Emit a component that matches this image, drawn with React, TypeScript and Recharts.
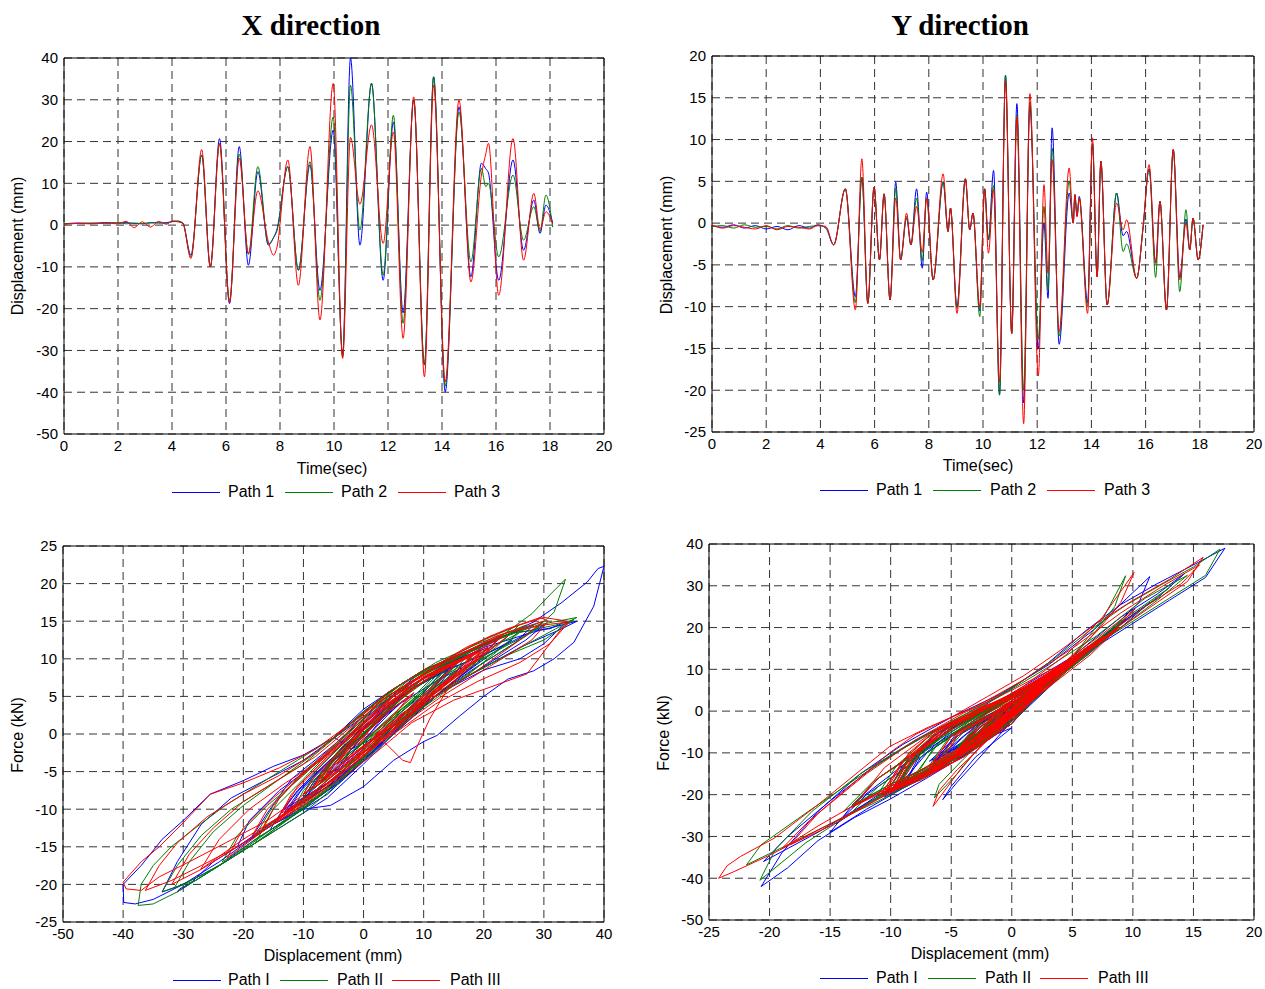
import React from 'react';
import { LineChart, Line, XAxis, YAxis, CartesianGrid, ReferenceArea } from 'recharts';

type P = [number, number];

// ---------- Time histories (X direction) ----------
const tX = [0, 0.5, 1.0, 1.5, 2.0, 2.3, 2.6, 2.9, 3.2, 3.5, 3.8, 4.0, 4.2, 4.4, 4.7, 5.1, 5.42, 5.76, 6.13, 6.49, 6.83, 7.18, 7.57, 7.76, 7.88, 8.29, 8.68, 9.11, 9.48, 9.97, 10.32, 10.61, 10.96, 11.39, 11.82, 12.2, 12.56, 12.95, 13.35, 13.69, 14.12, 14.63, 15.07, 15.46, 15.62, 15.72, 16.1, 16.63, 17.02, 17.4, 17.63, 17.85, 18.1];
const xPath1 = [0.3, 0.5, 0.4, 0.6, 0.5, 0.6, 0.4, 0.3, 0.6, 0.5, 0.6, 0.8, 0.9, 0.5, -7.2, 16.8, -10, 20.7, -18.8, 18.8, -9.6, 12.8, -4.8, -3, -1.2, 14, -10.8, 14.4, -15.6, 22.7, -31, 40, -4.8, 33.9, -13.2, 24.7, -21, 30, -33.5, 35.5, -39.9, 28.3, -12.4, 14.8, 13.5, 12.5, -13.2, 15.6, -6, 6, -2, 4.8, 0.5];
const xPath2 = [0.3, 0.4, 0.5, 0.4, 0.6, 0.3, 0.5, 0.4, 0.5, 0.6, 0.4, 0.9, 1.0, 0.5, -7.6, 16.8, -10, 19.5, -18, 17, -7, 14, -4.5, -3, -1.5, 14, -10.8, 15.2, -18, 25.9, -31.5, 33.5, -1.2, 34, -12, 26.3, -23.5, 30, -33.5, 35.5, -38.5, 27.1, -8.8, 13.6, 9.2, 10, -7.6, 12, -3.6, 4.4, -1.5, 7.2, -0.5];
const xPath3 = [0.2, 0.4, 0.3, 0.5, 0.3, 0.9, -0.6, 0.8, -0.5, 0.9, 0.2, 1.0, 0.8, 0.4, -8, 18.1, -10, 19.5, -18.5, 16, -6.8, 8.2, -4, -7.2, -5.5, 15.6, -14.4, 18.8, -22.7, 33.9, -31.9, 21, 5, 24, -4.4, 22.3, -27.1, 30.7, -36.3, 33.5, -37.5, 29.9, -13.6, 12, 17, 19.6, -16.8, 20.7, -8.4, 7.6, -1, 3.2, 0.3];

// ---------- Time histories (Y direction) ----------
const tY = [0, 0.4, 0.8, 1.2, 1.6, 2.0, 2.4, 2.8, 3.2, 3.6, 3.9, 4.2, 4.49, 4.92, 5.29, 5.53, 5.75, 5.98, 6.18, 6.35, 6.57, 6.78, 6.96, 7.18, 7.34, 7.55, 7.76, 7.92, 8.16, 8.53, 8.71, 8.8, 9.04, 9.35, 9.51, 9.63, 9.88, 10.06, 10.2, 10.39, 10.61, 10.83, 11.06, 11.25, 11.5, 11.73, 12.04, 12.25, 12.4, 12.55, 12.81, 13.18, 13.33, 13.39, 13.47, 13.55, 13.86, 14.04, 14.21, 14.35, 14.58, 14.93, 15.17, 15.3, 15.67, 15.91, 16.13, 16.37, 16.53, 16.77, 17.02, 17.26, 17.49, 17.63, 17.75, 17.94, 18.12];
const yPath1 = [-0.3, -0.5, -0.2, -0.6, -0.3, -0.7, -0.4, -0.8, -0.3, -0.6, -0.2, -0.6, -2.6, 4.1, -8.8, 5.5, -9.6, 4.3, -4.4, 3.5, -9.2, 4.9, -4.4, 0.6, -2.6, 4.1, -5.4, 3.7, -6.8, 4.9, -1, 1.8, -10, 5.3, -0.8, 1.2, -10.5, 4.1, -2, 6.3, -20.5, 17.7, -13.2, 14.3, -21.5, 14, -15, 0, -9, 11.4, -14.5, 3.6, 0, 3.4, 0.8, 3.2, -9.5, 9.5, -6.4, 7.4, -9.8, 3.6, -1.5, -1, -6.6, -0.4, 6.5, -4.8, 2.6, -10.4, 8.8, -6.5, 0.5, -3.2, 0.6, -4.4, -0.2];
const yPath2 = [-0.4, -0.3, -0.6, -0.2, -0.5, -0.4, -0.7, -0.3, -0.6, -0.4, -0.3, -0.5, -2.6, 4.1, -9.5, 5.5, -9.6, 4.3, -4.4, 3.5, -9.2, 4.2, -4.4, 0.8, -2.6, 3, -4.5, 3, -6.8, 5, -1, 1.8, -10.2, 5.3, -0.8, 1.2, -11.2, 4.1, -2, 4.5, -20.6, 17.7, -13.2, 13, -20, 14.5, -13.9, 2, -8, 9, -13.5, 5, 0, 3.4, 1, 3, -10, 9.5, -6.4, 7.4, -9.8, 3.6, -3.4, -2.5, -6.6, -0.4, 6.5, -6.5, 2.6, -10.4, 8.8, -8.2, 1.6, -3.2, 0.6, -4.4, -0.2];
const yPath3 = [-0.2, -0.6, -0.3, -0.5, -0.7, -0.3, -0.8, -0.4, -0.5, -0.7, -0.3, -0.4, -2.6, 4.1, -10.4, 7.7, -9.6, 4.3, -4.4, 3.5, -9.2, 3, -4.4, 1.2, -2.6, 2, -3.5, 3, -6.8, 5.9, -1, 1.8, -10.8, 5.3, -0.8, 1.2, -10, 4.1, -3.6, 4, -19, 17, -13.2, 12.7, -24, 15.5, -18.3, 4.6, -6, 7.6, -13, 6.6, 0, 3.4, 0.8, 3, -10.8, 10.2, -6.4, 7.4, -9.8, 2.4, -0.8, 0.4, -6.6, -0.4, 7, -4.8, 2.6, -10.4, 8.8, -6.8, 0, -3.2, 0.6, -4.4, -0.2];

// ---------- Hysteresis X direction: [displacement mm, force kN] ----------
const hxPathI: P[] = [
  [0, 0], [-3, -3], [-7.2, -6.5],
  [-5, -4], [0, 0.5], [5, 4.5], [10, 7], [16.8, 9.5],
  [14, 7], [10, 4], [5, 1], [0, -3], [-5, -6], [-10, -8.5],
  [-8, -6], [-3, -2], [0, 1.5], [5, 5], [10, 8], [15, 9.8], [20.7, 11.5],
  [18, 9], [12, 5], [5, 0], [0, -3.5], [-5, -7], [-10, -9.8], [-15, -12], [-18.8, -14],
  [-16, -10.5], [-12, -6], [-5, -1.5], [0, 2], [5, 5], [10, 8], [18.8, 11],
  [15, 8], [8, 3], [0, -3], [-5, -6], [-9.6, -8.5],
  [-7, -5], [-2, -1], [3, 3], [8, 6], [12.8, 8],
  [10, 5.5], [5, 2], [0, -2], [-4.8, -5],
  [-2, -2], [3, 2.5], [8, 6], [14, 8.5],
  [11, 6], [5, 1.5], [0, -3], [-5, -6.5], [-10.8, -9.5],
  [-8, -6], [-3, -2], [2, 2.5], [8, 6], [14.4, 9],
  [11, 5.5], [5, 0.5], [0, -3.5], [-6, -7.5], [-11, -10.5], [-15.6, -12.8],
  [-13, -9.5], [-8, -5], [-2, 0], [3, 4], [10, 8.5], [16, 10.5], [22.7, 13],
  [19, 9.5], [12, 5], [5, 0], [0, -4], [-6, -8.5], [-12, -11.5], [-18, -14.5], [-24, -17.5], [-28, -19.5], [-30.6, -20.6], [-31, -21],
  [-29, -20], [-25, -17], [-20, -14.5], [-15, -12], [-10, -10], [-5.5, -9.5], [0, -7], [5, -3.5], [10, -1], [12.2, -0.2], [16, 2.4], [20, 5], [24, 7.3], [28.3, 8.4], [31.7, 10], [35, 12.2], [38.3, 17], [40, 22.3],
  [39, 22], [37.2, 20.2], [33, 17.5], [28.3, 14.9], [22, 12.5], [15, 10], [10, 8.5], [5, 6], [0, 3], [-4.8, -0.5],
  [-2, -2], [3, 0], [8, 3], [14, 6], [20, 8.5], [26, 10], [30, 12], [33.9, 15],
  [31, 14], [25, 13.5], [18, 11], [10, 7.5], [4, 3], [0, -1], [-5, -5], [-10, -8.5], [-13.2, -10.5],
  [-11, -8], [-6, -4], [0, 0], [6, 4], [12, 7], [18, 9.5], [24.7, 12.5],
  [21, 10.5], [15, 7], [8, 2.5], [2, -2], [-5, -6.5], [-12, -10], [-17, -12.8], [-21, -15],
  [-19, -11.5], [-14, -7.5], [-8, -4], [-2, 0], [4, 4], [10, 7.5], [17, 9.5], [24, 12], [30, 14.5],
  [27, 12.5], [20, 9], [12, 5], [5, 0.5], [0, -3.5], [-6, -8], [-12, -11], [-18, -14], [-24, -17.5], [-30, -20], [-33.5, -21],
  [-31, -17], [-27, -12], [-22, -8.5], [-16, -6], [-10, -3.5], [-4, 0], [2, 3.5], [8, 6.5], [14, 9], [20, 11.5], [28, 13.5], [35.5, 15],
  [33, 14], [26, 11.5], [18, 8], [10, 4], [3, -1.5], [-4, -6.5], [-10, -9.5], [-17, -13], [-24, -17], [-30, -20], [-35, -22], [-38, -22.6], [-39.9, -22.4],
  [-40, -20], [-37, -17.5], [-33.5, -14], [-30, -11.5], [-25.5, -8], [-20, -6.2], [-15, -4.3], [-10, -2.8], [-5, -0.5], [0, 3.3], [5, 6], [10, 8.5], [15, 10.3], [20, 12], [28.3, 14.5],
  [25, 12], [18, 8.5], [10, 4], [4, 0], [0, -3], [-6, -7], [-12.4, -10],
  [-10, -7], [-5, -3], [0, 1], [6, 5], [14.8, 9],
  [12, 6.5], [6, 2], [0, -2.5], [-6, -6.5], [-13.2, -10],
  [-11, -7.5], [-5, -3], [1, 1.5], [8, 6], [15.6, 9.5],
  [13, 7], [7, 3], [2, -0.5], [-2, -3], [-6, -5.5],
  [-4, -3], [0, 0], [3, 2.5], [6, 4],
  [4, 2.5], [1, 0], [-2, -2],
  [0, 0], [2.5, 2], [4.8, 3.5],
  [3, 2], [0.5, 0.5],
];
const hxPathII: P[] = [
  [0, 0.5], [-3, -2.5], [-7.6, -6],
  [-5, -3], [0, 1.5], [5, 5], [10, 7.5], [16.8, 10],
  [14, 7.5], [9, 3.5], [4, 0], [0, -2.5], [-5, -5.5], [-10, -8],
  [-8, -5], [-3, -1], [1, 3], [6, 6.5], [12, 9], [19.5, 11.5],
  [17, 9.5], [11, 5.5], [5, 1], [0, -2.5], [-6, -6.5], [-12, -10], [-18, -13.5],
  [-15, -9.5], [-10, -5], [-4, -1], [1, 3.5], [7, 7], [12, 9], [17, 10.5],
  [14, 8], [8, 3.5], [2, -0.5], [-3, -3.5], [-7, -6],
  [-5, -3.5], [0, 1], [5, 4.5], [10, 7.5], [14, 9],
  [11, 6], [5, 2.5], [0, -1], [-4.5, -4],
  [-2, -1.5], [3, 2.5], [8, 6], [14, 9],
  [11, 6.5], [5, 2], [0, -2.5], [-5, -6], [-10.8, -9.5],
  [-8, -6], [-3, -1.5], [2, 3], [8, 7], [15.2, 10],
  [12, 6.5], [6, 2], [0, -3], [-6, -7.5], [-12, -11], [-18, -14.5],
  [-15, -10], [-10, -6], [-4, -1], [2, 3.5], [8, 7.5], [14, 10], [20, 12.5], [25.9, 14.5],
  [22, 11.5], [15, 7.5], [8, 3], [2, -1.5], [-4, -6.5], [-10, -10.5], [-16, -13.5], [-22, -16.5], [-27, -18.8], [-31.5, -20.5],
  [-29, -17], [-25, -13], [-20, -9.5], [-14, -6], [-8, -2.5], [-2, 1.5], [4, 5.5], [10, 8.5], [16, 10.5], [22, 12.5], [28, 16], [31, 18.5], [33.6, 20.6],
  [31.7, 16.2], [28, 13.5], [22, 11], [15, 8], [8, 4], [3, 1], [-1.2, -2],
  [1, -0.5], [6, 2.5], [12, 5.5], [18, 8], [24, 10.5], [30, 12.5], [35, 15.2],
  [32, 14.5], [26, 13.5], [20, 11], [12, 7], [5, 2.5], [0, -2], [-6, -7], [-12, -10.5],
  [-10, -7.5], [-5, -3.5], [0, 0.5], [6, 5], [12, 8.5], [19, 11.5], [26.3, 14],
  [23, 11.5], [16, 7], [9, 3], [3, -1.5], [-3, -5.5], [-10, -10], [-17, -13.5], [-23.5, -17],
  [-21, -13.5], [-16, -9.5], [-10, -5.5], [-4, -1], [2, 3.5], [9, 7.5], [16, 10.5], [23, 13], [30, 15],
  [27, 13], [20, 9.5], [12, 5], [5, 0.5], [-1, -4], [-8, -8.5], [-15, -12.5], [-22, -16.5], [-28, -19.5], [-33.5, -21],
  [-31, -17.5], [-27, -13.5], [-22, -10], [-16, -7], [-10, -4], [-4, 0], [2, 4], [8, 7], [15, 10], [22, 12.5], [29, 14.5], [35.5, 15.5],
  [32, 14], [25, 11], [17, 7.5], [10, 4], [3, -1], [-4, -6], [-11, -10.5], [-18, -14.5], [-25, -18], [-31, -21], [-35, -22.6], [-37.5, -22.8],
  [-37, -20], [-35, -17.5], [-32, -15], [-28, -12.5], [-23, -9.5], [-17, -6.5], [-11, -3.5], [-5, -0.5], [0, 3], [6, 6.5], [12, 9.5], [19, 12], [27.1, 14.5],
  [24, 12], [17, 8.5], [10, 4.5], [4, 0.5], [-2, -3.5], [-8.8, -7.5],
  [-6, -4.5], [-1, -0.5], [4, 3], [9, 6.5], [13.6, 9],
  [10, 6], [4, 1.5], [-2, -3], [-7.6, -6.5],
  [-5, -3.5], [0, 0.5], [6, 4.5], [12, 8],
  [9, 5.5], [4, 2], [0, -1], [-3.6, -3.5],
  [-1, -1], [2, 1.5], [4.4, 3.5],
  [2, 1.5], [-1.5, -1.5],
  [1, 0.5], [4, 3], [7.2, 5.5],
  [4, 3], [-0.5, -0.5],
];
const hxPathIII: P[] = [
  [0, 0], [-3, -2.5], [-8, -6.5],
  [-6, -4], [-1, 0], [4, 4], [10, 7.5], [18.1, 10.5],
  [15, 8], [9, 4], [3, 0], [-2, -3], [-6, -5.5], [-10, -8],
  [-8, -5.5], [-3, -1.5], [2, 2.5], [8, 6.5], [14, 9], [19.5, 11],
  [16, 8.5], [10, 4.5], [4, 0], [-2, -3.5], [-8, -7.5], [-13, -10.5], [-18.5, -13.5],
  [-16, -10], [-11, -6], [-5, -2], [1, 2.5], [7, 6.5], [16, 10],
  [13, 7.5], [7, 3], [2, -0.5], [-2, -3], [-6.8, -6],
  [-4, -3.5], [1, 0.5], [5, 3.5], [8.4, 5.5],
  [5, 2.5], [1, -1], [-3, -3.5], [-7.2, -6.5],
  [-5, -4], [0, 0.5], [5, 4], [10, 7], [15.6, 9.5],
  [12, 6.5], [6, 2], [0, -2.5], [-5, -6], [-10, -9], [-14.4, -11.5],
  [-12, -8], [-7, -4], [-2, 0], [4, 4.5], [10, 7.5], [18.8, 11],
  [15, 7.5], [8, 3], [2, -1.5], [-4, -5.5], [-10, -9], [-16, -12.5], [-22.7, -16.5],
  [-20, -12.5], [-15, -8.5], [-9, -4.5], [-3, 0], [3, 4.5], [9, 7.5], [15, 10.5], [21, 13], [26, 14.5], [30, 15.5], [33.9, 15],
  [31, 12], [27.2, 8], [22, 6.5], [15, 4.5], [8, 1.5], [2, -2.5], [-4, -6], [-10, -9.5], [-16, -12.5], [-22, -15.5], [-27, -18], [-31.9, -20],
  [-29, -16], [-25, -12.5], [-20, -9], [-14, -6], [-8, -3], [-2, 1], [4, 5], [10, 8], [16, 10.5], [23.1, 13],
  [18, 9.5], [14, 6], [11, 2], [9, -1.5], [7.8, -3.8], [6.5, -3.5], [4, -1.5], [2, 0],
  [5, 1], [9, 3.5], [14, 7], [19, 10], [24, 13],
  [20, 10.5], [13, 6.5], [6, 2.5], [1, -1], [-4.4, -4],
  [-2, -1], [3, 3], [9, 6.5], [15, 9.5], [22.3, 12.5],
  [18, 9], [11, 4.5], [4, 0], [-2, -3.5], [-8, -7.5], [-14, -11], [-20, -14], [-27.1, -18],
  [-24, -14], [-19, -10], [-13, -6.5], [-7, -3.5], [-1, 0.5], [5, 5], [11, 8.5], [17, 11.5], [24, 14], [29.4, 15.5], [30.7, 15],
  [28, 12.5], [21, 9], [13, 5], [6, 1], [0, -3], [-7, -7.5], [-14, -11.5], [-21, -15], [-27, -17.5], [-32, -19.5], [-36.3, -20.8],
  [-34, -17.5], [-31, -14.5], [-26, -11], [-20, -8], [-14, -5.5], [-8, -2.5], [-2, 1.5], [4, 5.5], [10, 8.5], [17, 11], [24, 13.5], [30, 14.5], [34.2, 14.9],
  [31, 12], [26, 9.5], [19, 7], [12, 4], [5, 0], [-2, -3.5], [-9, -7.5], [-16, -11.5], [-23, -14.5], [-29, -17], [-34, -19], [-37, -20.8], [-39.5, -20.6], [-40, -19.7],
  [-37, -17], [-34, -15], [-30, -11.8], [-25.5, -8], [-20, -6.5], [-14, -4.5], [-8, -2], [-2, 1.5], [4, 5], [10, 8], [16, 10.5], [22, 13], [29.9, 15],
  [26, 12.5], [19, 8.5], [11, 4.5], [4, 0.5], [-3, -4], [-8, -7.5], [-13.6, -10.5],
  [-11, -7], [-6, -3], [0, 1], [6, 5], [12, 8], [19.6, 11],
  [16, 8], [9, 3.5], [3, -1], [-3, -4.5], [-9, -8.5], [-16.8, -12.5],
  [-14, -8.5], [-9, -4.5], [-3, -0.5], [3, 3.5], [9, 7], [15, 9.5], [20.7, 11.5],
  [17, 9], [10, 4.5], [4, 1], [-2, -3], [-8.4, -7],
  [-5, -3.5], [0, 0.5], [4, 3], [7.6, 5],
  [5, 2.5], [2, 0.5], [-1, -1.5],
  [1, 0.5], [3.2, 2.5],
  [1.5, 1], [0.3, 0],
];

// ---------- Hysteresis Y direction: [displacement mm, force kN] ----------
const hyPathI: P[] = [
  [0, 0], [-1.5, -3.5], [-2.6, -6],
  [-1.5, -2], [1, 3], [4.1, 9.5],
  [2.5, 5], [0, -3], [-4, -10.5], [-8.8, -17],
  [-7.5, -10], [-5, -4], [-2, 0.5], [1, 5.5], [5.5, 13],
  [3.5, 8], [0, -3], [-5, -12], [-9.6, -19],
  [-8, -11], [-5.5, -5], [-2, 0.5], [1, 5], [4.3, 10.5],
  [2.5, 6], [0, 0], [-4.4, -9],
  [-2.5, -3], [1, 3.5], [3.5, 8.5],
  [1.5, 3.5], [-2, -6], [-6, -13.5], [-9.2, -17.5],
  [-7, -10], [-3, -2], [1, 5], [4.9, 11.5],
  [2.5, 6], [0, -0.5], [-4.4, -9],
  [-2, -3], [0.6, 2],
  [-1, -2.5], [-2.6, -6],
  [-1, -0.5], [2, 5], [4.1, 10],
  [2, 5], [-1.5, -3], [-5.4, -10],
  [-3, -3.5], [0.5, 3.5], [3.7, 9],
  [1.5, 4], [-2, -4], [-6.8, -12],
  [-4.5, -6], [0, 2.5], [4.9, 11.5],
  [2.5, 5.5], [-1, -2.5],
  [0.5, 1.5], [1.8, 4.5],
  [0, -3], [-4, -11], [-7.5, -16], [-10, -19.5],
  [-8.5, -11.5], [-6, -5], [-3, -0.5], [0, 3.5], [5.3, 12.5],
  [2.5, 6], [-0.8, -2], [1.2, 3.5],
  [-1, -4], [-5, -12.5], [-10.5, -20.5],
  [-9, -13], [-6.5, -6], [-3, -0.5], [0, 3.5], [4.1, 10],
  [1.5, 3.5], [-2, -4.5],
  [0, 1.5], [3, 8], [6.3, 15.5],
  [4, 10], [0, -1.5], [-4, -10], [-8, -16.5], [-12, -22], [-16, -29], [-20.5, -36],
  [-18.5, -30], [-15, -21.5], [-11, -12.5], [-7, -5.5], [-3, 0], [0, 5.5], [3, 11.5], [6, 19], [9, 25.5], [12, 30.5], [15, 35], [17.6, 39],
  [16, 32], [13, 26.5], [10, 21], [7, 15.5], [4, 9.5], [1, 1], [-2, -6], [-6, -13], [-10, -18], [-13.2, -23],
  [-11, -16], [-7, -8], [-3, -1], [1, 6], [5, 13], [9, 22.5], [12, 28], [14.3, 33],
  [12, 27], [9, 21], [5, 12], [1, 1.5], [-3, -9], [-7, -16], [-10, -21], [-13, -25.5], [-16, -31], [-18.5, -37.5], [-20.7, -42],
  [-19, -34], [-16, -24], [-12.5, -15], [-9, -8], [-5, -1.5], [-1, 4], [3, 11], [7, 20], [9.5, 27], [11.4, 32.2],
  [10.5, 26], [8, 19], [5, 11], [2, 3], [-1, -5], [-5, -12.5], [-9, -18.5], [-12, -23.5], [-15, -29],
  [-13, -22], [-9, -13], [-5, -5.5], [-2, -1], [0, 2],
  [-2, -6], [-5.5, -13], [-9, -18],
  [-7.5, -11], [-5, -5], [-2, 0.5], [1, 5], [5, 12.5], [8.5, 20], [11.4, 26],
  [9, 20], [5, 11], [1, 2], [-3, -7.5], [-7, -14], [-11, -20], [-14.5, -27],
  [-12, -20], [-7, -10], [-3, -2], [0, 3.5], [3.6, 9],
  [1.5, 4], [0, 0.5], [1.5, 4.5], [3.4, 8.5],
  [1, 0], [-3, -8], [-6.5, -14], [-9.5, -18],
  [-8, -11], [-5, -4], [-1, 2], [1, 5], [5, 12.5], [9.5, 22],
  [7, 16], [3, 7], [0, 0], [-3, -6], [-6.4, -12],
  [-4, -6], [0, 2.5], [4, 10.5], [7.4, 17],
  [5, 11], [1, 0], [-3, -8.5], [-6.5, -14.5], [-9.8, -19],
  [-8, -11.5], [-5, -4], [-1, 1.5], [3.6, 9],
  [1, 1], [-2, -9], [-4.5, -17], [-5.7, -21.2], [-5, -18], [-3, -11], [0, -4], [-2.5, -7], [-6.6, -13.5],
  [-4.5, -5], [0, 2], [3, 8], [6.5, 15.5],
  [4, 9.5], [0.5, 1], [-2.5, -4.5], [-4.8, -9.5],
  [-2.5, -3], [0.5, 2.5], [2.6, 6.5],
  [0.5, -1], [-3, -8.5], [-7, -15], [-10.4, -19.5],
  [-8.5, -11.5], [-5.5, -4.5], [-2, 1], [1, 5], [4.5, 11], [8.8, 20],
  [6.5, 14], [2.5, 5], [-1, -2.5], [-3.5, -7], [-6.5, -12],
  [-4.5, -6], [-1.5, -1], [0.5, 2],
  [-1, -2.5], [-3.2, -7],
  [-1.5, -1.5], [0.6, 2],
  [-1.5, -3.5], [-4.4, -9],
  [-2.5, -3.5], [-0.2, 0],
];
const hyPathII: P[] = [
  [0, 0.5], [-1.5, -3], [-2.6, -5.5],
  [-1.5, -1.5], [1, 3.5], [4.1, 10],
  [2.5, 5.5], [0, -3], [-4, -10.5], [-9.5, -18],
  [-8, -10.5], [-5.5, -4.5], [-2, 1], [1, 5.5], [5.5, 13.5],
  [3.5, 8.5], [0, -2.5], [-5, -11.5], [-9.6, -18.5],
  [-8, -11], [-5, -4], [-1.5, 1.5], [1, 5.5], [4.3, 11],
  [2.5, 6.5], [0, 0.5], [-4.4, -8.5],
  [-2.5, -2.5], [1, 4], [3.5, 9],
  [1.5, 4], [-2, -5.5], [-6, -13], [-9.2, -17],
  [-7.5, -10], [-4.5, -3.5], [-1, 2], [1, 5], [4.2, 10.5],
  [2.5, 6], [0, 0], [-4.4, -8.5],
  [-2, -2.5], [0.8, 2.5],
  [-1, -2], [-2.6, -5.5],
  [-1, 0], [1.5, 4], [3, 7.5],
  [1.5, 3.5], [-1.5, -2.5], [-4.5, -8.5],
  [-2.5, -2.5], [0.5, 3.5], [3, 8],
  [1.5, 3.5], [-2, -4.5], [-6.8, -13],
  [-5, -5.5], [0, 3], [5, 12],
  [2.5, 5.5], [-1, -2],
  [0.5, 2], [1.8, 5],
  [0, -2.5], [-4, -10.5], [-7.5, -15.5], [-10.2, -19],
  [-8.5, -11], [-6, -4.5], [-2.5, 0.5], [0, 3.5], [5.3, 13],
  [2.5, 6.5], [-0.8, -1.5], [1.2, 4],
  [-1, -3.5], [-5, -12], [-8.5, -16.5], [-11.2, -20.5],
  [-9.5, -13], [-7, -6.5], [-4, -1.5], [0, 3.5], [4.1, 10.5],
  [1.5, 4], [-2, -4],
  [0, 2], [2.5, 7], [4.5, 12],
  [2.5, 6], [-1, -3], [-5, -11], [-9, -17.5], [-13, -24], [-17, -31.5], [-20.8, -40.5],
  [-19.5, -33], [-16.5, -24], [-12.5, -15], [-8, -7], [-4, -1], [0, 5.5], [3.5, 12.5], [6.5, 19.5], [9.5, 25.5], [12.5, 30.5], [15, 34.5], [17.2, 38.8],
  [16, 32.5], [13, 27], [10, 21.5], [7, 16], [4, 10], [1, 1.5], [-2, -5.5], [-6, -12.5], [-10, -17.5], [-13.2, -22.5],
  [-11, -16], [-7, -8.5], [-3, -1.5], [1, 5.5], [5, 12.5], [9, 21.5], [13, 29.5],
  [11, 25], [8, 18.5], [4.5, 10.5], [1, 1], [-3, -8.5], [-7, -15.5], [-11, -21.5], [-15, -27], [-18.5, -32], [-21.9, -36.8],
  [-20.7, -32], [-16.8, -24], [-12.5, -15.5], [-9, -9], [-5, -2.5], [-1, 3.5], [3, 10.5], [7, 18], [11, 27], [14.5, 32.5],
  [12, 26.5], [9, 20], [5.5, 12], [2, 3], [-2, -5.5], [-6, -12], [-10, -17.5], [-13.9, -24],
  [-11.5, -17], [-7, -8], [-3, -1], [2, 6],
  [0, -1], [-4, -9.5], [-8, -16],
  [-6.5, -9], [-3.5, -2.5], [-1, 1.5], [2, 6], [5, 13], [7.5, 22], [9.4, 32.4],
  [8.5, 25], [6.5, 17.5], [4, 10], [1, 1.5], [-3, -7], [-7, -13.5], [-10.5, -19.5], [-13.5, -25],
  [-11, -18], [-6.5, -9], [-2, -0.5], [1.5, 5.5], [5, 12.5],
  [2.5, 6], [0, 1], [1.5, 5], [3.4, 9],
  [1, 0], [-3, -8.5], [-6.5, -14.5], [-10, -19.5],
  [-8.5, -11.5], [-5.5, -4.5], [-1.5, 1.5], [1.5, 5.5], [5.5, 13.5], [9.5, 22.5],
  [7, 16], [3, 6.5], [0, -1], [-2.5, -8], [-4.5, -15], [-6.4, -20.8], [-6, -17.5], [-4, -11.5], [-1.5, -4.5], [1, 2], [4, 10.5], [7.4, 17.5],
  [5, 11], [1, 0.5], [-3, -8.5], [-6.5, -14.5], [-9.8, -19],
  [-8, -11.5], [-5, -4.5], [-1.5, 1], [0, 3], [3.6, 9],
  [1, 2.5], [-3.4, -7],
  [-1.5, -2], [-4, -8.5], [-6.6, -13.5],
  [-4, -5], [-0.4, 1],
  [2, 5.5], [4, 10], [6.5, 15.5],
  [4, 9.5], [0.5, 1], [-3, -7], [-6.5, -13.5],
  [-4.5, -5.5], [0, 2], [2.6, 7],
  [0.5, -0.5], [-3, -8.5], [-7, -15.5], [-10.4, -19.5],
  [-8.5, -12], [-5.5, -4.5], [-2, 1], [0, 3], [4.5, 11], [8.8, 20.5],
  [6.5, 14], [2.5, 5], [-1, -3], [-4.5, -10], [-8.2, -16],
  [-6, -7.5], [-2, -1], [1.6, 4.5],
  [-0.5, -1], [-3.2, -6.5],
  [-1.5, -1.5], [0.6, 2],
  [-1.5, -3.5], [-4.4, -8.5],
  [-2.5, -3], [-0.2, 0.5],
];
const hyPathIII: P[] = [
  [0, 0], [-1.5, -3], [-2.6, -5.5],
  [-1.5, -1], [1, 4], [4.1, 10],
  [2.5, 5.5], [0, -3], [-4, -11], [-7.5, -16], [-10.4, -19],
  [-8.5, -10], [-6, -4], [-3, 0], [0, 4], [4, 10.5], [7.7, 17.5],
  [5, 11], [1.5, 2], [-2, -6], [-6, -13.5], [-9.6, -18],
  [-8, -10], [-5, -3.5], [-2, 1], [1, 5.5], [4.3, 11],
  [2.5, 6.5], [0, 0.5], [-4.4, -9.5],
  [-2.5, -2.5], [1, 4.5], [3.5, 9],
  [1.5, 3], [-2, -5.5], [-6, -13], [-9.2, -17.5],
  [-7.5, -9.5], [-4.5, -3], [-1, 2], [0.5, 4], [3, 8],
  [1.5, 4], [-1, -3], [-4.4, -9.5],
  [-2, -2], [1.2, 3.5],
  [-0.5, -1.5], [-2.6, -5.5],
  [-0.5, 0.5], [2, 6],
  [0.5, 1.5], [-3.5, -7.5],
  [-1.5, -1], [1, 4], [3, 8],
  [1, 1.5], [-2.5, -6], [-6.8, -13.5],
  [-5, -6], [-2, 0], [0, 3], [3, 8.5], [5.9, 14],
  [3, 7], [-1, -2.5],
  [0.5, 2], [1.8, 5],
  [0, -2.5], [-4, -11], [-7.5, -16.5], [-10.8, -20],
  [-9, -12], [-6.5, -5], [-3, 0], [0, 4], [5.3, 13],
  [2.5, 6], [-0.8, -2], [1.2, 3.5],
  [-1, -4], [-5, -12.5], [-10, -19.5],
  [-8.5, -11.5], [-6, -4.5], [-2.5, 1], [0, 3.5], [4.1, 10.5],
  [1.5, 3.5], [-2, -4.5],
  [0, 2], [2, 6], [4, 10.5],
  [2, 5], [-1.5, -3.5], [-5, -10], [-9, -16.5], [-13, -22.5], [-16, -27.5], [-19, -33],
  [-17, -27], [-14, -19.5], [-10.1, -10], [-7.9, -5.5], [-5, -1.5], [-2, 3.5], [1, 8.5], [4, 14.5], [7, 21], [10, 26.5], [13, 31.5], [15.8, 36.8],
  [14.5, 31], [12, 26], [9, 20], [6, 14], [3, 7], [0, -1], [-3, -7.5], [-7, -14], [-10, -18.5], [-13.2, -23],
  [-11, -16], [-7, -8], [-3, -1], [1, 6], [4.5, 13.5], [7.5, 22.5], [10.1, 33.2],
  [9, 26], [7, 19], [4.5, 12], [1.5, 3], [-2, -6], [-6, -13.5], [-10, -19.5], [-14, -25.5], [-17, -30], [-20, -34.5], [-23, -38.5], [-24.2, -40],
  [-23.5, -37], [-22.4, -34.8], [-19.6, -30.4], [-16, -22.4], [-12.6, -14.4], [-10.1, -8.5], [-7, -4], [-3, 1], [1, 7.5], [5, 15], [9, 23.5], [12.5, 30], [15.5, 35],
  [14, 30.5], [11, 25], [7.5, 17.5], [4, 10], [0.5, 0], [-3, -8.5], [-7, -15], [-11, -21], [-15, -27.5], [-18.3, -32],
  [-16, -24.5], [-12, -15], [-8, -7], [-4, -0.5], [0, 5], [4.6, 12],
  [2, 4], [-2, -6], [-6, -13],
  [-4.5, -6], [-2, -0.5], [0, 2.5], [4, 10.5], [7.6, 18],
  [5, 11.5], [1.5, 2.5], [-2.5, -6], [-6.5, -12.5], [-10, -18], [-13, -22.5],
  [-10.5, -13.5], [-7, -6], [-3, 0], [2, 7], [6.6, 16],
  [3.5, 8], [0, 0.5], [1.5, 4.5], [3.4, 9],
  [1, 0.5], [-3, -8], [-7, -15], [-10.8, -20],
  [-9, -12], [-6, -5], [-2.5, 1], [0, 3.5], [4, 11], [7.5, 18.5], [10.2, 24.5],
  [8, 18], [4.5, 10], [1, 1], [-1.5, -5], [-4, -13], [-6.5, -22.8], [-6, -19], [-4.5, -14], [-2, -7], [0.5, 0], [3.5, 8.5], [7.4, 17.5],
  [5, 11.5], [1, 1], [-3, -8], [-6.5, -14.5], [-9.8, -19],
  [-8, -10.5], [-5, -3.5], [-1.5, 1.5], [0, 3], [2.4, 7],
  [0.5, 1.5], [-0.8, -1.5], [0.4, 1.5],
  [-2, -4.5], [-4.5, -10], [-6.6, -14],
  [-4.5, -5.5], [-0.4, 1],
  [2, 5.5], [4.5, 11], [7, 16.5],
  [4.5, 10], [1, 1], [-2, -5.5], [-4.8, -11],
  [-3, -3], [0.5, 3], [2.6, 7],
  [0.5, 0], [-3, -8], [-7, -15], [-10.4, -19.5],
  [-8.5, -11.5], [-5.5, -4], [-2, 1], [0, 3], [4.5, 11], [8.8, 20],
  [6.5, 13.5], [2.5, 4.5], [-1, -4], [-4, -10], [-6.8, -14],
  [-5, -6], [-1.5, -0.5], [0, 2],
  [-1, -2.5], [-3.2, -7],
  [-1.5, -1.5], [0.6, 2],
  [-1.5, -3.5], [-4.4, -9],
  [-2.5, -3.5], [-0.2, 0],
];

// ---------- Axis ticks ----------
const timeTicks = [0, 2, 4, 6, 8, 10, 12, 14, 16, 18, 20];
const xDispTicks = [-50, -40, -30, -20, -10, 0, 10, 20, 30, 40];
const yDispTicks = [-25, -20, -15, -10, -5, 0, 5, 10, 15, 20];
const xForceTicks = [-25, -20, -15, -10, -5, 0, 5, 10, 15, 20, 25];
const yForceTicks = [-50, -40, -30, -20, -10, 0, 10, 20, 30, 40];
const labels123 = ['Path 1', 'Path 2', 'Path 3'];
const labelsRoman = ['Path I', 'Path II', 'Path III'];

const COLORS = ['#0000ff', '#008000', '#ff0000'];
const FONT = '"Liberation Sans", Arial, Helvetica, sans-serif';

const zip = (t: number[], v: number[]) => t.map((x, i) => ({ x, y: v[i] }));
const pts = (a: P[]) => a.map(([x, y]) => ({ x, y }));

type PanelProps = {
  left: number; top: number; width: number; height: number;
  margin: { top: number; right: number; bottom: number; left: number };
  xDomain: [number, number]; xTicks: number[];
  yDomain: [number, number]; yTicks: number[];
  series: { x: number; y: number }[][];
  curve: 'monotone' | 'linear';
};

function Panel(p: PanelProps) {
  const tickStyle = { fill: '#000', fontSize: 15, fontFamily: FONT };
  return (
    <div style={{ position: 'absolute', left: p.left, top: p.top }}>
      <LineChart width={p.width} height={p.height} margin={p.margin}>
        <CartesianGrid stroke="#333" strokeDasharray="8 5" />
        <XAxis type="number" dataKey="x" domain={p.xDomain} ticks={p.xTicks} interval={0}
          allowDataOverflow tick={tickStyle} tickLine={false} axisLine={false}
          tickSize={4} tickMargin={2} height={30} />
        <YAxis type="number" dataKey="y" domain={p.yDomain} ticks={p.yTicks} interval={0}
          allowDataOverflow tick={tickStyle} tickLine={false} axisLine={false}
          tickSize={4} tickMargin={2} width={50} />
        {p.series.map((s, i) => (
          <Line key={i} data={s} dataKey="y" type={p.curve} stroke={COLORS[i]} strokeWidth={1}
            dot={false} activeDot={false} isAnimationActive={false} />
        ))}
        <ReferenceArea x1={p.xDomain[0]} x2={p.xDomain[1]} y1={p.yDomain[0]} y2={p.yDomain[1]}
          fill="none" fillOpacity={0} stroke="#000" strokeWidth={1} ifOverflow="visible" />
      </LineChart>
    </div>
  );
}

const textBase: React.CSSProperties = {
  position: 'absolute', fontFamily: FONT, fontSize: 16, color: '#000', whiteSpace: 'nowrap', lineHeight: '18px', zIndex: 5,
};

function CenterText({ x, y, text, rotate }: { x: number; y: number; text: string; rotate?: boolean }) {
  return (
    <div style={{ ...textBase, left: x, top: y, transform: `translate(-50%, -50%)${rotate ? ' rotate(-90deg)' : ''}` }}>
      {text}
    </div>
  );
}

function LegendRow({ y, items, names }: { y: number; items: [number, number, number][]; names: string[] }) {
  return (
    <>
      <svg style={{ position: 'absolute', left: 0, top: y - 5, zIndex: 5 }} width={1265} height={10}>
        {items.map(([x1, x2], i) => (
          <line key={i} x1={x1} x2={x2} y1={5.5} y2={5.5} stroke={COLORS[i]} strokeWidth={1} />
        ))}
      </svg>
      {items.map(([, , tx], i) => (
        <div key={i} style={{ ...textBase, left: tx, top: y - 9 }}>{names[i]}</div>
      ))}
    </>
  );
}

export default function App() {
  const titleStyle: React.CSSProperties = {
    position: 'absolute', top: 8, width: 300, textAlign: 'center', fontFamily: '"Liberation Serif", "Times New Roman", serif',
    fontWeight: 'bold', fontSize: 29, lineHeight: '34px', color: '#000', zIndex: 5,
  };
  return (
    <div style={{ position: 'absolute', left: 0, top: 0, width: 1265, height: 989, background: '#fff', overflow: 'hidden' }}>
      <div style={{ ...titleStyle, left: 161 }}>X direction</div>
      <div style={{ ...titleStyle, left: 810 }}>Y direction</div>

      <Panel left={0} top={0} width={640} height={470} margin={{ top: 58, right: 36, bottom: 6, left: 14 }}
        xDomain={[0, 20]} xTicks={timeTicks} yDomain={[-50, 40]} yTicks={yForceTicks} curve="monotone"
        series={[zip(tX, xPath1), zip(tX, xPath2), zip(tX, xPath3)]} />
      <Panel left={648} top={0} width={617} height={470} margin={{ top: 56, right: 11, bottom: 8, left: 14 }}
        xDomain={[0, 20]} xTicks={timeTicks} yDomain={[-25, 20]} yTicks={yDispTicks} curve="monotone"
        series={[zip(tY, yPath1), zip(tY, yPath2), zip(tY, yPath3)]} />
      <Panel left={0} top={488} width={640} height={470} margin={{ top: 58, right: 36, bottom: 6, left: 13 }}
        xDomain={[-50, 40]} xTicks={xDispTicks} yDomain={[-25, 25]} yTicks={xForceTicks} curve="linear"
        series={[pts(hxPathI), pts(hxPathII), pts(hxPathIII)]} />
      <Panel left={648} top={488} width={617} height={470} margin={{ top: 56, right: 11, bottom: 8, left: 11 }}
        xDomain={[-25, 20]} xTicks={yDispTicks} yDomain={[-50, 40]} yTicks={yForceTicks} curve="linear"
        series={[pts(hyPathI), pts(hyPathII), pts(hyPathIII)]} />

      <CenterText x={18} y={246} text="Displacement (mm)" rotate />
      <CenterText x={667} y={245} text="Displacement (mm)" rotate />
      <CenterText x={18} y={735} text="Force (kN)" rotate />
      <CenterText x={664} y={733} text="Force (kN)" rotate />

      <CenterText x={332} y={469} text="Time(sec)" />
      <CenterText x={978} y={466} text="Time(sec)" />
      <CenterText x={333} y={956} text="Displacement (mm)" />
      <CenterText x={980} y={954} text="Displacement (mm)" />

      <LegendRow y={492} names={labels123} items={[[172, 220, 228], [285, 333, 341], [398, 446, 454]]} />
      <LegendRow y={490} names={labels123} items={[[820, 868, 876], [933, 981, 990], [1047, 1095, 1104]]} />
      <LegendRow y={980} names={labelsRoman} items={[[173, 221, 228], [280, 328, 337], [392, 440, 450]]} />
      <LegendRow y={978} names={labelsRoman} items={[[820, 868, 876], [928, 976, 985], [1040, 1088, 1098]]} />
    </div>
  );
}
